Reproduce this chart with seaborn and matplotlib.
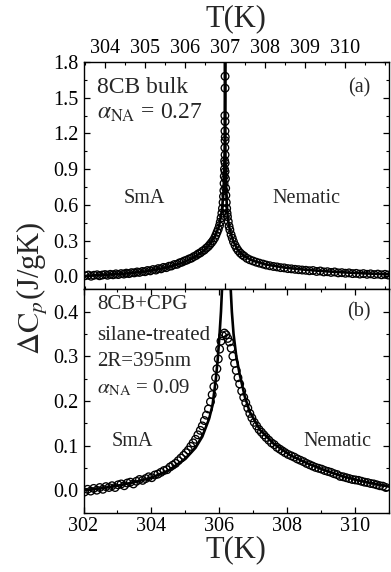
import numpy as np
import pandas as pd
import matplotlib
matplotlib.use("Agg")
import matplotlib.pyplot as plt
from matplotlib.ticker import MultipleLocator, FormatStrFormatter
import seaborn as sns

# ---------------- (a) 8CB bulk ----------------
bulk_T = [
    303.50, 303.58, 303.65, 303.72, 303.80, 303.86, 303.93, 304.00, 304.06, 304.13,
    304.20, 304.27, 304.33, 304.40, 304.47, 304.53, 304.60, 304.66, 304.73, 304.80,
    304.86, 304.93, 305.00, 305.06, 305.13, 305.20, 305.27, 305.33, 305.40, 305.46,
    305.53, 305.60, 305.66, 305.73, 305.80, 305.86, 305.92, 305.98, 306.04, 306.10,
    306.16, 306.22, 306.28, 306.33, 306.38, 306.43, 306.48, 306.53, 306.58, 306.62,
    306.66, 306.70, 306.74, 306.77, 306.80, 306.83, 306.86, 306.88, 306.90, 306.92,
    306.935, 306.95, 306.96, 306.97, 306.975, 306.98, 306.985, 306.99,
    307.00, 306.995, 307.00, 306.998, 307.00, 306.995, 307.00, 307.00, 307.005, 307.002, 307.00,
    307.01, 307.015, 307.02, 307.03, 307.04, 307.05, 307.06, 307.08, 307.10, 307.12,
    307.15, 307.18, 307.21, 307.25, 307.29, 307.33, 307.38, 307.43, 307.48, 307.55,
    307.62, 307.70, 307.78, 307.86, 307.95, 308.03, 308.12, 308.21, 308.30, 308.39,
    308.48, 308.57, 308.66, 308.75, 308.84, 308.93, 309.02, 309.11, 309.20, 309.29,
    309.38, 309.47, 309.56, 309.65, 309.74, 309.83, 309.92, 310.01, 310.10, 310.19,
    310.28, 310.37, 310.46, 310.55, 310.64, 310.73, 310.82, 310.91, 311.00, 311.08,
]
bulk_dCp = [
    0.004, 0.010, 0.000, 0.008, 0.012, 0.004, 0.010, 0.014, 0.008, 0.016,
    0.012, 0.020, 0.014, 0.022, 0.018, 0.026, 0.022, 0.030, 0.028, 0.036,
    0.032, 0.040, 0.038, 0.048, 0.045, 0.056, 0.052, 0.064, 0.062, 0.074,
    0.072, 0.084, 0.086, 0.098, 0.100, 0.112, 0.118, 0.128, 0.135, 0.145,
    0.152, 0.165, 0.175, 0.188, 0.196, 0.210, 0.220, 0.236, 0.250, 0.266,
    0.282, 0.300, 0.322, 0.345, 0.370, 0.395, 0.425, 0.455, 0.490, 0.530,
    0.570, 0.620, 0.670, 0.720, 0.780, 0.840, 0.900, 0.970,
    1.020, 1.080, 1.140, 1.220, 1.300, 1.350, 1.580, 1.680, 1.170, 0.950, 0.880,
    0.820, 0.740, 0.680, 0.620, 0.570, 0.530, 0.500, 0.460, 0.420, 0.390,
    0.350, 0.320, 0.290, 0.260, 0.235, 0.215, 0.195, 0.180, 0.168, 0.150,
    0.138, 0.128, 0.118, 0.110, 0.102, 0.094, 0.088, 0.082, 0.078, 0.072,
    0.070, 0.064, 0.062, 0.058, 0.055, 0.052, 0.050, 0.046, 0.048, 0.040,
    0.044, 0.036, 0.038, 0.032, 0.036, 0.028, 0.030, 0.025, 0.028, 0.022,
    0.024, 0.018, 0.022, 0.016, 0.020, 0.014, 0.018, 0.012, 0.016, 0.010,
]
bulk_fit_T = [
    303.46, 304.0, 304.5, 305.0, 305.5, 305.9, 306.2, 306.45, 306.6, 306.75,
    306.85, 306.92, 306.96, 306.98, 306.99, 306.996, 306.999,
    307.002, 307.005, 307.01, 307.02, 307.04, 307.07, 307.1, 307.15, 307.2,
    307.3, 307.4, 307.55, 307.7, 308.0, 308.5, 309.0, 309.5, 310.0, 310.5, 311.1,
]
bulk_fit_dCp = [
    0.002, 0.012, 0.022, 0.040, 0.070, 0.110, 0.155, 0.210, 0.260, 0.340,
    0.420, 0.550, 0.700, 0.900, 1.100, 1.500, 2.000,
    2.000, 1.300, 1.000, 0.800, 0.620, 0.480, 0.420, 0.350, 0.300,
    0.230, 0.190, 0.155, 0.130, 0.100, 0.072, 0.055, 0.042, 0.032, 0.024, 0.016,
]

# ---------------- (b) 8CB+CPG, silane-treated, 2R = 395 nm ----------------
cpg_T = [
    302.03, 302.12, 302.21, 302.30, 302.39, 302.48, 302.57, 302.66, 302.75, 302.84,
    302.93, 303.02, 303.11, 303.20, 303.29, 303.38, 303.47, 303.56, 303.65, 303.74,
    303.83, 303.92, 304.01, 304.10, 304.19, 304.28, 304.37, 304.46, 304.55, 304.63,
    304.71, 304.79, 304.87, 304.95, 305.02, 305.09, 305.16, 305.23, 305.30, 305.37,
    305.44, 305.50, 305.56, 305.62, 305.68, 305.74, 305.79, 305.84, 305.89, 305.93,
    305.97, 306.01, 306.05, 306.10, 306.15, 306.20, 306.25, 306.30,
    306.35, 306.40, 306.45, 306.50, 306.55, 306.60, 306.66, 306.72, 306.78, 306.84,
    306.90, 306.96, 307.03, 307.10, 307.17, 307.24, 307.31, 307.38, 307.46, 307.54,
    307.62, 307.70, 307.78, 307.86, 307.94, 308.03, 308.12, 308.21, 308.30, 308.39,
    308.48, 308.57, 308.66, 308.75, 308.84, 308.93, 309.02, 309.11, 309.20, 309.29,
    309.38, 309.47, 309.56, 309.65, 309.74, 309.83, 309.92, 310.01, 310.10, 310.19,
    310.28, 310.37, 310.46, 310.55, 310.64, 310.73, 310.82, 310.91,
]
cpg_dCp = [
    -0.004, 0.002, -0.002, 0.004, 0.000, 0.006, 0.002, 0.008, 0.006, 0.010,
    0.006, 0.012, 0.014, 0.010, 0.016, 0.018, 0.014, 0.020, 0.024, 0.022,
    0.026, 0.030, 0.028, 0.034, 0.036, 0.040, 0.044, 0.046, 0.052, 0.056,
    0.060, 0.066, 0.072, 0.078, 0.084, 0.090, 0.098, 0.106, 0.114, 0.124,
    0.134, 0.144, 0.156, 0.168, 0.182, 0.198, 0.214, 0.232, 0.252, 0.272,
    0.294, 0.316, 0.334, 0.346, 0.352, 0.348, 0.340, 0.332,
    0.318, 0.300, 0.284, 0.268, 0.252, 0.238, 0.222, 0.208, 0.196, 0.184,
    0.172, 0.162, 0.152, 0.144, 0.136, 0.130, 0.124, 0.118, 0.112, 0.106,
    0.102, 0.096, 0.092, 0.088, 0.084, 0.080, 0.077, 0.074, 0.070, 0.067,
    0.064, 0.060, 0.057, 0.054, 0.051, 0.049, 0.047, 0.044, 0.042, 0.040,
    0.037, 0.035, 0.031, 0.030, 0.028, 0.026, 0.024, 0.023, 0.022, 0.020,
    0.018, 0.017, 0.015, 0.014, 0.012, 0.010, 0.009, 0.006,
]
cpg_fit_T = [
    302.0, 302.5, 303.0, 303.5, 304.0, 304.5, 305.0, 305.3, 305.5, 305.7,
    305.8, 305.9, 305.95, 306.0, 306.05, 306.08, 306.1,
    306.3, 306.33, 306.37, 306.42, 306.5, 306.6, 306.75, 306.9, 307.2, 307.6,
    308.1, 308.6, 309.1, 309.6, 310.1, 310.6, 311.0,
]
cpg_fit_dCp = [
    0.000, 0.004, 0.010, 0.018, 0.028, 0.044, 0.070, 0.095, 0.120, 0.160,
    0.190, 0.250, 0.290, 0.340, 0.400, 0.450, 0.500,
    0.500, 0.460, 0.400, 0.350, 0.300, 0.260, 0.210, 0.175, 0.135, 0.104,
    0.078, 0.060, 0.045, 0.032, 0.022, 0.014, 0.008,
]

sns.set_style("ticks")
plt.rcParams["font.family"] = ["Liberation Serif", "DejaVu Serif"]
plt.rcParams["mathtext.fontset"] = "stix"

fig = plt.figure(figsize=(3.91, 5.72), dpi=100)
ax_a = fig.add_axes([0.2136, 0.4942, 0.7813, 0.3974])
ax_b = fig.add_axes([0.2136, 0.1040, 0.7813, 0.3902])

panels = [
    (ax_a, bulk_T, bulk_dCp, bulk_fit_T, bulk_fit_dCp),
    (ax_b, cpg_T, cpg_dCp, cpg_fit_T, cpg_fit_dCp),
]
for ax, T, dC, fT, fC in panels:
    sns.lineplot(x=fT, y=fC, ax=ax, color="black", lw=1.9, sort=False,
                 estimator=None, zorder=2)
    sns.scatterplot(x=T, y=dC, ax=ax, marker="o", s=30, facecolor="none",
                    edgecolor="black", linewidth=0.95, zorder=3)
    for sp in ax.spines.values():
        sp.set_linewidth(1.0)
        sp.set_color("black")
    ax.tick_params(which="both", direction="in", top=True, right=True,
                   labelsize=14.5, colors="black")
    ax.tick_params(which="major", length=4, width=0.9)
    ax.tick_params(which="minor", length=2.2, width=0.8)
    ax.set_xlabel("")
    ax.set_ylabel("")

# panel (a): temperature scale on top
ax_a.set_xlim(303.46, 311.1)
ax_a.set_ylim(-0.11, 1.8)
ax_a.set_xticks([304, 305, 306, 307, 308, 309, 310])
ax_a.xaxis.set_minor_locator(MultipleLocator(0.5))
ax_a.yaxis.set_major_locator(MultipleLocator(0.3))
ax_a.yaxis.set_minor_locator(MultipleLocator(0.15))
ax_a.yaxis.set_major_formatter(FormatStrFormatter("%.1f"))
ax_a.tick_params(axis="x", labeltop=True, labelbottom=False, pad=3)
ax_a.xaxis.set_label_position("top")
ax_a.set_xlabel("T(K)", fontsize=22, labelpad=9)
ax_a.text(0.044, 0.89, "8CB bulk", transform=ax_a.transAxes, fontsize=17,
          ha="left", va="center")
ax_a.text(0.044, 0.775, r"$\alpha_{\mathrm{NA}}$ = 0.27", transform=ax_a.transAxes,
          fontsize=17, ha="left", va="center")
ax_a.text(0.94, 0.885, "(a)", transform=ax_a.transAxes, fontsize=14.5,
          ha="right", va="center")
ax_a.text(0.20, 0.40, "SmA", transform=ax_a.transAxes, fontsize=14.5,
          ha="center", va="center")
ax_a.text(0.73, 0.40, "Nematic", transform=ax_a.transAxes, fontsize=14.5,
          ha="center", va="center")

# panel (b)
ax_b.set_xlim(302, 311)
ax_b.set_ylim(-0.05, 0.45)
ax_b.xaxis.set_major_locator(MultipleLocator(2))
ax_b.xaxis.set_minor_locator(MultipleLocator(1))
ax_b.yaxis.set_major_locator(MultipleLocator(0.1))
ax_b.yaxis.set_minor_locator(MultipleLocator(0.05))
ax_b.yaxis.set_major_formatter(FormatStrFormatter("%.1f"))
ax_b.tick_params(axis="x", pad=3)
ax_b.set_xlabel("T(K)", fontsize=22, labelpad=0)
ax_b.text(0.044, 0.93, "8CB+CPG", transform=ax_b.transAxes, fontsize=15,
          ha="left", va="center")
ax_b.text(0.044, 0.795, "silane-treated", transform=ax_b.transAxes, fontsize=15,
          ha="left", va="center")
ax_b.text(0.044, 0.675, "2R=395nm", transform=ax_b.transAxes, fontsize=15,
          ha="left", va="center")
ax_b.text(0.044, 0.56, r"$\alpha_{\mathrm{NA}}$ = 0.09", transform=ax_b.transAxes,
          fontsize=15, ha="left", va="center")
ax_b.text(0.94, 0.90, "(b)", transform=ax_b.transAxes, fontsize=14.5,
          ha="right", va="center")
ax_b.text(0.16, 0.32, "SmA", transform=ax_b.transAxes, fontsize=14.5,
          ha="center", va="center")
ax_b.text(0.83, 0.32, "Nematic", transform=ax_b.transAxes, fontsize=14.5,
          ha="center", va="center")

fig.text(33 / 391, 1 - 288 / 572, r"$\Delta\mathrm{C}_p$(J/gK)", rotation=90,
         fontsize=22, ha="center", va="center")

fig.savefig("out.png", dpi=100)
